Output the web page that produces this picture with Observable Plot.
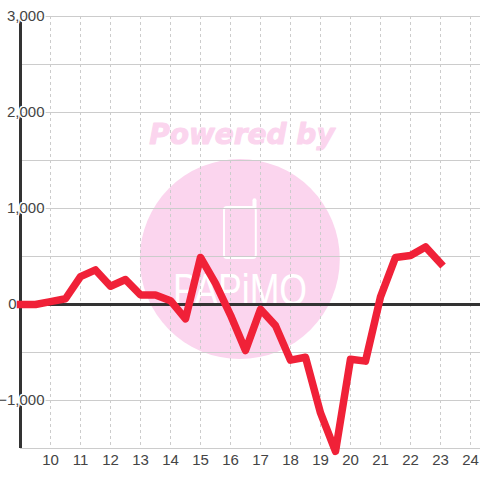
<!DOCTYPE html>
<html>
<head>
<meta charset="utf-8">
<script src="https://cdn.jsdelivr.net/npm/d3@7"></script>
<script src="https://cdn.jsdelivr.net/npm/@observablehq/plot@0.6"></script>
<style>
html,body{margin:0;padding:0;background:#fff}
svg{display:block}
</style>
</head>
<body>
<div id="chart"></div>
<script>
const hours = [9,9.5,10,10.5,11,11.5,12,12.5,13,13.5,14,14.5,15,15.5,16,16.5,17,17.5,18,18.5,19,19.5,20,20.5,21,21.5,22,22.5,23];
const values = [0,0,30,60,290,360,190,260,100,100,40,-150,490,220,-110,-480,-50,-220,-580,-550,-1130,-1530,-570,-590,80,490,510,600,430];
const xTicks = [10,11,12,13,14,15,16,17,18,19,20,21,22,23,24];
const yGrid = [3000,2500,2000,1500,1000,500,0,-500,-1000,-1500];
const yLabels = [3000,2000,1000,-1000];
const series = hours.map((h,i)=>({h,v:values[i]}));
const pink = "#fbd5ee";
const fmt = d3.format(",");

const chart = Plot.plot({
  width:480,height:480,
  marginLeft:20,marginRight:0,marginTop:16,marginBottom:32,
  style:{fontFamily:"'Liberation Sans',Arial,sans-serif",background:"#fff",overflow:"visible"},
  x:{domain:[9,24.3333]},
  y:{domain:[-1500,3000],axis:null},
  marks:[
    // watermark
    Plot.dot([{x:16.31,y:474}],{x:"x",y:"y",r:100,fill:pink,stroke:null}),
    Plot.text(["Powered by"],{x:[16.38],y:[1765],fill:pink,stroke:pink,strokeWidth:1,fontSize:28,fontWeight:"bold",fontStyle:"italic",fontFamily:"'DejaVu Sans'",textAnchor:"middle"}),
    Plot.rect([{x1:15.8,x2:16.86,y1:479,y2:1010}],{x1:"x1",x2:"x2",y1:"y1",y2:"y2",fill:null,stroke:"#fff",strokeWidth:2,rx:3}),
    Plot.ruleX([16.8],{y1:[1010],y2:[1080],stroke:"#fff",strokeWidth:4,strokeLinecap:"round"}),
    Plot.text(["PAPiMO"],{x:[16.32],y:[146],fill:"#fff",fontSize:44,fontFamily:"'Liberation Sans'",textAnchor:"middle",className:"wm-brand"}),
    // grid
    Plot.ruleY(yGrid,{stroke:"#ccc",strokeWidth:1}),
    Plot.ruleX(xTicks,{y1:3000,y2:-1500,stroke:"#ccc",strokeWidth:1,strokeDasharray:"3 3"}),
    // axes
    Plot.ruleX([9],{y1:3000,y2:-1500,stroke:"#333",strokeWidth:3}),
    Plot.ruleY([0],{stroke:"#333",strokeWidth:3}),
    Plot.axisX(xTicks,{anchor:"bottom",tickSize:0,tickPadding:6,fontSize:15,fill:"#444",label:null,tickFormat:d=>String(d)}),
    Plot.text(yLabels,{x:()=>9,y:d=>d,text:d=>fmt(d),dx:24,textAnchor:"end",fontSize:15,fill:"#444",stroke:"#fff",strokeWidth:3}),
    Plot.text([0],{x:()=>9,y:d=>d,text:d=>fmt(d),dx:-4,textAnchor:"end",fontSize:15,fill:"#444"}),
    // series
    Plot.line(series,{x:"h",y:"v",stroke:"#f02138",strokeWidth:7.5,strokeLinecap:"square",curve:"linear"})
  ]
});
chart.querySelectorAll(".wm-brand text").forEach(t=>{
  t.setAttribute("textLength","134");
  t.setAttribute("lengthAdjust","spacingAndGlyphs");
});
document.getElementById("chart").appendChild(chart);
</script>
</body>
</html>
